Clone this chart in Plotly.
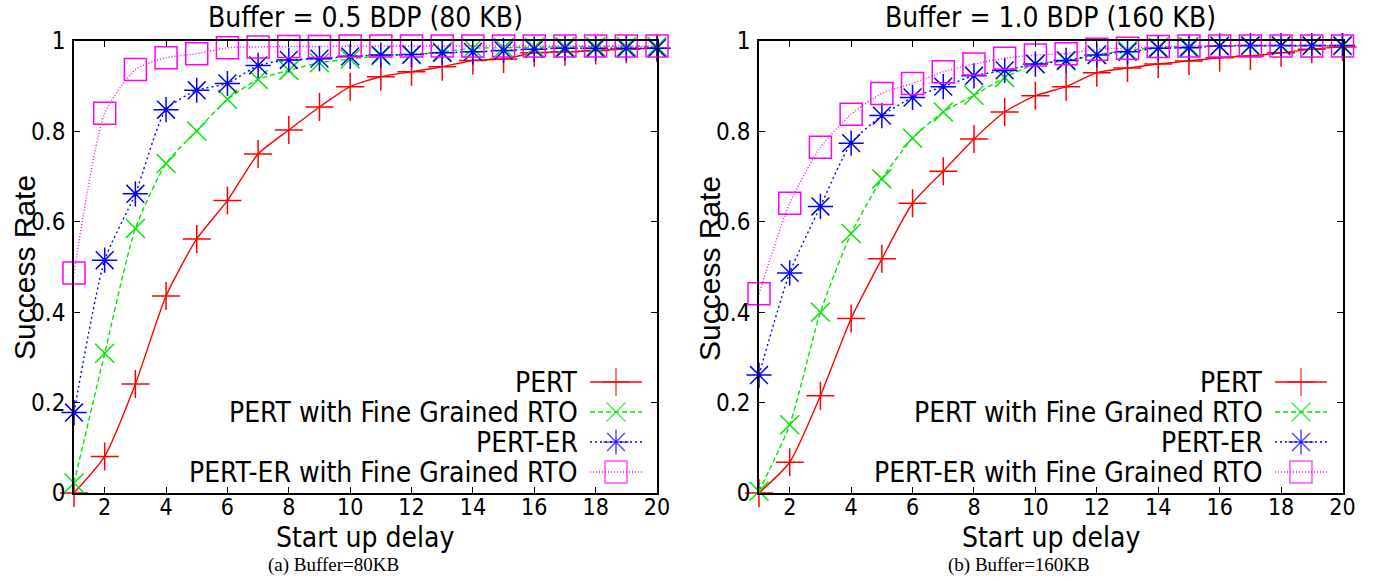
import plotly.graph_objects as go

# ---------------- data ----------------
delay = list(range(1, 21))
x_ticks = [2, 4, 6, 8, 10, 12, 14, 16, 18, 20]
y_ticks = [0, 0.2, 0.4, 0.6, 0.8, 1]
y_tick_text = ["0", "0.2", "0.4", "0.6", "0.8", "1"]

series_names = ["PERT", "PERT with Fine Grained RTO", "PERT-ER", "PERT-ER with Fine Grained RTO"]

# Buffer = 0.5 BDP (80 KB)
a_pert = [0.0, 0.081, 0.241, 0.436, 0.562, 0.647, 0.750, 0.803, 0.854, 0.899,
          0.921, 0.932, 0.943, 0.957, 0.960, 0.974, 0.976, 0.979, 0.982, 0.984]
a_pert_fg = [0.022, 0.309, 0.585, 0.729, 0.801, 0.871, 0.915, 0.935, 0.952, 0.960,
             0.967, 0.970, 0.976, 0.984, 0.985, 0.986, 0.987, 0.988, 0.988, 0.988]
a_pert_er = [0.178, 0.515, 0.662, 0.848, 0.891, 0.906, 0.946, 0.958, 0.961, 0.966,
             0.969, 0.970, 0.974, 0.976, 0.979, 0.982, 0.984, 0.984, 0.984, 0.984]
a_pert_er_fg = [0.487, 0.840, 0.937, 0.963, 0.972, 0.985, 0.987, 0.988, 0.988, 0.989,
                0.989, 0.989, 0.989, 0.989, 0.989, 0.989, 0.989, 0.989, 0.989, 0.989]

# Buffer = 1.0 BDP (160 KB)
b_pert = [0.0, 0.068, 0.215, 0.386, 0.518, 0.641, 0.712, 0.783, 0.843, 0.879,
          0.899, 0.930, 0.940, 0.949, 0.956, 0.963, 0.967, 0.974, 0.982, 0.987]
b_pert_fg = [0.004, 0.151, 0.400, 0.574, 0.695, 0.785, 0.843, 0.880, 0.919, 0.949,
             0.956, 0.970, 0.979, 0.986, 0.988, 0.989, 0.989, 0.989, 0.989, 0.989]
b_pert_er = [0.261, 0.487, 0.634, 0.774, 0.835, 0.875, 0.899, 0.923, 0.935, 0.949,
             0.957, 0.969, 0.976, 0.984, 0.985, 0.989, 0.990, 0.990, 0.990, 0.990]
b_pert_er_fg = [0.441, 0.641, 0.765, 0.838, 0.884, 0.906, 0.932, 0.949, 0.962, 0.969,
                0.972, 0.982, 0.984, 0.988, 0.989, 0.989, 0.989, 0.989, 0.989, 0.989]

panel_titles = ["Buffer = 0.5 BDP (80 KB)", "Buffer = 1.0 BDP (160 KB)"]
captions = ["(a) Buffer=80KB", "(b) Buffer=160KB"]
x_title = "Start up delay"
y_title = "Success Rate"

# ---------------- styles ----------------
W, H = 1385, 581
FONT = "DejaVu Sans Condensed, Liberation Sans, Arial, sans-serif"
YFONT = "Liberation Sans, Arial, sans-serif"
SERIF = "Liberation Serif, Times New Roman, serif"

colors = ["#FF0000", "#00E600", "#0000FF", "#FF00FF"]
symbols = ["cross-thin-open", "x-thin-open", "asterisk-open", "square-open"]
msizes = [20, 19, 21, 22]
dashes = ["solid", "5px,3px", "2px,3px", "1px,2px"]


def px(x):
    return x / W


def py(y):
    return 1 - y / H


panels = [
    dict(data=[a_pert, a_pert_fg, a_pert_er, a_pert_er_fg], x0=74, x1=657),
    dict(data=[b_pert, b_pert_fg, b_pert_er, b_pert_er_fg], x0=759, x1=1342.5),
]
Y_TOP, Y_BOT = 41, 493

fig = go.Figure()

for p_i, panel in enumerate(panels):
    xa = "x" if p_i == 0 else "x2"
    ya = "y" if p_i == 0 else "y2"
    for s_i, vals in enumerate(panel["data"]):
        fig.add_trace(go.Scatter(
            x=delay, y=vals, xaxis=xa, yaxis=ya,
            mode="lines+markers", name=series_names[s_i], showlegend=False,
            cliponaxis=False,
            line=dict(color=colors[s_i], width=1.4, dash=dashes[s_i],
                      shape="spline", smoothing=0.6),
            marker=dict(symbol=symbols[s_i], size=msizes[s_i],
                        color=colors[s_i],
                        line=dict(color=colors[s_i], width=1.5)),
        ))

axis_common = dict(
    showline=True, linecolor="black", linewidth=1.5, mirror="ticks",
    ticks="inside", ticklen=6, tickwidth=1, tickcolor="black",
    showgrid=False, zeroline=False, automargin=False,
)

for p_i, panel in enumerate(panels):
    suffix = "" if p_i == 0 else "2"
    fig.update_layout(**{
        "xaxis" + suffix: dict(
            axis_common, domain=[px(panel["x0"]), px(panel["x1"])],
            range=[1, 20], tickvals=x_ticks, anchor="y" + suffix,
            ticklabelstandoff=-7,
            tickfont=dict(family=FONT, size=23, color="black"),
        ),
        "yaxis" + suffix: dict(
            axis_common, domain=[py(Y_BOT), py(Y_TOP)],
            range=[0, 1], tickvals=y_ticks, ticktext=y_tick_text,
            anchor="x" + suffix, ticklabelstandoff=2,
            tickfont=dict(family=FONT, size=24, color="black"),
        ),
    })

# ---- legend (gnuplot style: text on the left, sample on the right) ----
fig.update_layout(
    xaxis3=dict(domain=[0, 1], range=[0, W], visible=False, anchor="y3",
                fixedrange=True, automargin=False),
    yaxis3=dict(domain=[0, 1], range=[H, 0], visible=False, anchor="x3",
                fixedrange=True, automargin=False),
)
legend_rows = [382, 412, 442, 472]
legend_cfg = [dict(text_right=580, s0=590, s1=642), dict(text_right=1265, s0=1275, s1=1327)]
annotations = []
for cfg in legend_cfg:
    for s_i, name in enumerate(series_names):
        yy = legend_rows[s_i]
        annotations.append(dict(
            x=px(cfg["text_right"]), y=py(yy), xref="paper", yref="paper",
            text=name, showarrow=False, xanchor="right", yanchor="middle",
            font=dict(family=FONT, size=28, color="black"),
        ))
        xm = (cfg["s0"] + cfg["s1"]) / 2
        fig.add_trace(go.Scatter(
            x=[cfg["s0"], xm, cfg["s1"]], y=[yy, yy, yy], xaxis="x3", yaxis="y3",
            mode="lines+markers", showlegend=False, hoverinfo="skip", cliponaxis=False,
            line=dict(color=colors[s_i], width=1.4, dash=dashes[s_i]),
            marker=dict(symbol=symbols[s_i], size=[0, msizes[s_i], 0], color=colors[s_i],
                        line=dict(color=colors[s_i], width=1.5)),
        ))

# ---- titles, axis titles, captions ----
for p_i, panel in enumerate(panels):
    cx = (panel["x0"] + panel["x1"]) / 2
    annotations.append(dict(
        x=px(cx), y=py(18), xref="paper", yref="paper", text=panel_titles[p_i],
        showarrow=False, xanchor="center", yanchor="middle",
        font=dict(family=FONT, size=28, color="black"),
    ))
    annotations.append(dict(
        x=px(cx), y=py(537), xref="paper", yref="paper", text=x_title,
        showarrow=False, xanchor="center", yanchor="middle",
        font=dict(family=FONT, size=28, color="black"),
    ))
    annotations.append(dict(
        x=px(panel["x0"] - 50), y=py(268), xref="paper", yref="paper", text=y_title,
        showarrow=False, xanchor="center", yanchor="middle", textangle=-90,
        font=dict(family=YFONT, size=30, color="black"),
    ))
    annotations.append(dict(
        x=px(cx - 32), y=py(565), xref="paper", yref="paper", text=captions[p_i],
        showarrow=False, xanchor="center", yanchor="middle",
        font=dict(family=SERIF, size=19, color="black"),
    ))

fig.update_layout(
    width=W, height=H, autosize=False,
    margin=dict(l=0, r=0, t=0, b=0, autoexpand=False),
    paper_bgcolor="white", plot_bgcolor="rgba(0,0,0,0)",
    showlegend=False,
    annotations=annotations,
    font=dict(family=FONT, color="black"),
)

fig.write_html(
    "out.html",
    config={"displayModeBar": False},
    post_script="document.body.style.margin='0px';document.body.style.padding='0px';"
                "document.body.style.overflow='hidden';",
)
